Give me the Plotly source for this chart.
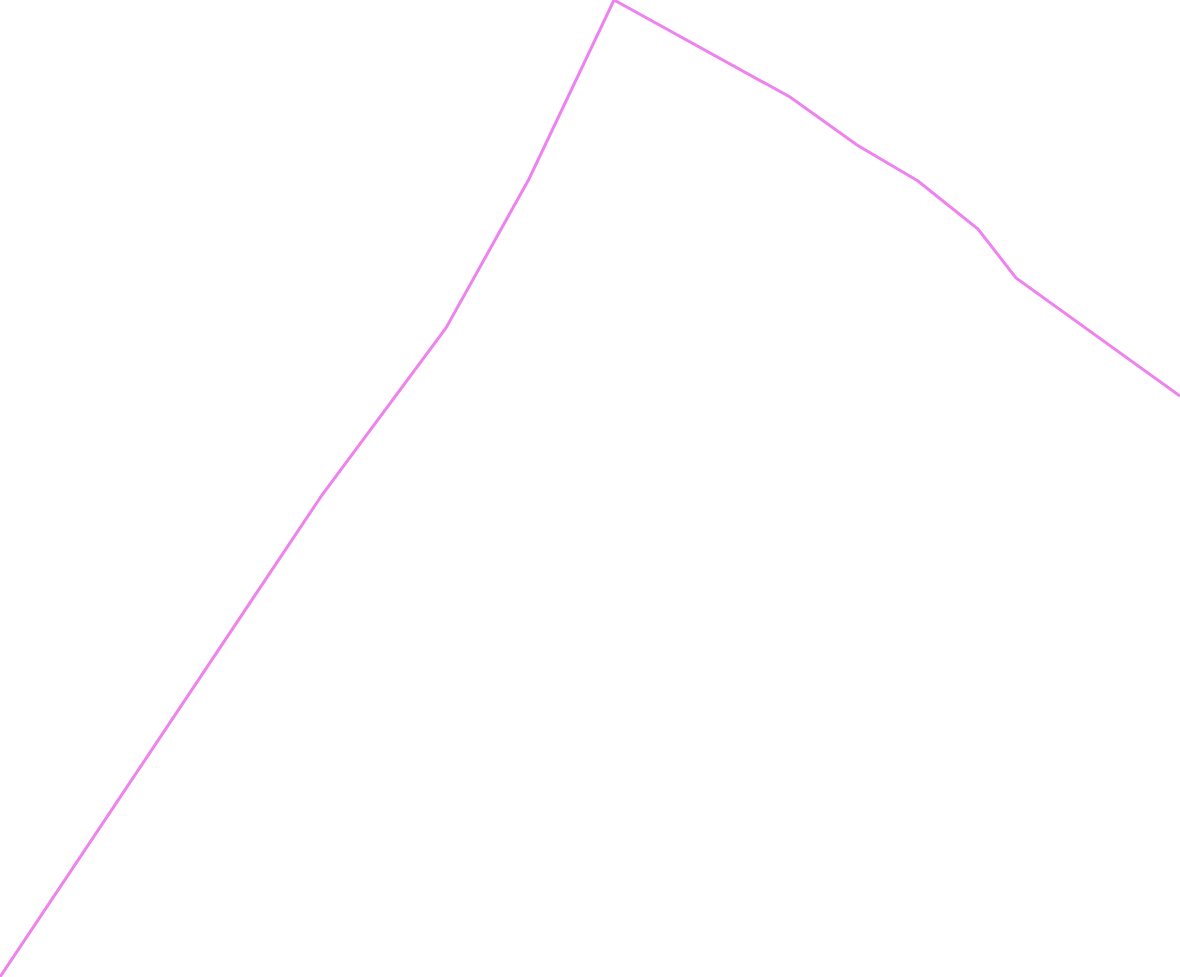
import plotly.graph_objects as go

x_vals = [0, 322, 446, 529, 614, 790, 857, 918, 978, 1016, 1180]
y_vals = [0, 482, 649, 798, 977, 880, 832, 796, 748, 699, 581]

fig = go.Figure(go.Scatter(x=x_vals, y=y_vals, mode="lines",
                           line=dict(color="violet", width=3)))
fig.update_layout(width=1180, height=977, margin=dict(l=0, r=0, t=0, b=0),
                  paper_bgcolor="white", plot_bgcolor="white", showlegend=False)
fig.update_xaxes(visible=False, range=[min(x_vals), max(x_vals)])
fig.update_yaxes(visible=False, range=[min(y_vals), max(y_vals)])
fig.write_html("out.html",
               config={"displayModeBar": False},
               post_script="document.body.style.margin='0';document.body.style.overflow='hidden';")
